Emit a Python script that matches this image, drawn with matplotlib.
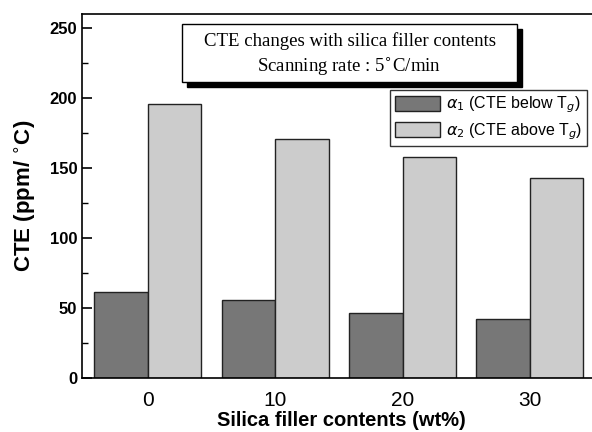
import numpy as np
import matplotlib
matplotlib.use("Agg")
import matplotlib.pyplot as plt
from matplotlib.patches import Rectangle

filler = ["0", "10", "20", "30"]
alpha1 = [61.5, 55.5, 46.5, 42]
alpha2 = [196, 171, 158, 142.5]

fig = plt.figure(figsize=(5.92, 4.32), dpi=100)
ax = fig.add_axes([82 / 592, 54 / 432, 518 / 592, 364 / 432])

x = np.arange(len(filler))
w = 0.42
ax.bar(x - w / 2, alpha1, w, color="#777777", edgecolor="#222222", linewidth=1.0,
       label=r"$\alpha_1$ (CTE below T$_g$)")
ax.bar(x + w / 2, alpha2, w, color="#cccccc", edgecolor="#222222", linewidth=1.0,
       label=r"$\alpha_2$ (CTE above T$_g$)")

ax.set_xlim(-0.518, 3.55)
ax.set_ylim(0, 260)
ax.set_xticks(x)
ax.set_xticklabels(filler)
ax.set_yticks(np.arange(0, 251, 50))
ax.set_yticks(np.arange(25, 251, 50), minor=True)
ax.tick_params(axis="y", which="major", direction="in", length=7, width=1.2)
ax.tick_params(axis="y", which="minor", direction="in", length=4, width=1.0)
ax.tick_params(axis="x", length=0, pad=9)
for lab in ax.get_yticklabels():
    lab.set_fontfamily("Liberation Sans")
    lab.set_fontweight("bold")
    lab.set_fontsize(12)
for lab in ax.get_xticklabels():
    lab.set_fontfamily("Liberation Sans")
    lab.set_fontsize(15)
for sp in ax.spines.values():
    sp.set_linewidth(1.2)

ax.set_xlabel("Silica filler contents (wt%)", fontsize=14.5, fontweight="bold",
              family="Liberation Sans", labelpad=1)
ax.set_ylabel(r"CTE (ppm/ $^{\circ}$C)", fontsize=16, fontweight="bold",
              family="Liberation Sans", labelpad=8)

leg = ax.legend(loc="upper left", bbox_to_anchor=(300 / 518, 1 - 68 / 364),
                frameon=True, fancybox=False, edgecolor="black",
                prop={"family": "Liberation Sans", "size": 11.5},
                handlelength=2.8, handleheight=1.1, borderpad=0.3,
                labelspacing=0.35, handletextpad=0.4)
leg.get_frame().set_linewidth(1.0)

# title box with drop shadow
bx0, by0, bw, bh = 182 / 592, (432 - 82) / 432, 335 / 592, 58 / 432
fig.patches.append(Rectangle((bx0 + 5 / 592, by0 - 5 / 432), bw, bh,
                             transform=fig.transFigure, facecolor="black",
                             edgecolor="black", zorder=5))
fig.patches.append(Rectangle((bx0, by0), bw, bh, transform=fig.transFigure,
                             facecolor="white", edgecolor="black", linewidth=1.0,
                             zorder=6))
fig.text(bx0 + bw / 2, by0 + bh * 0.71, "CTE changes with silica filler contents",
         ha="center", va="center", family="Liberation Serif", fontsize=13.5, zorder=7)
fig.text(bx0 + bw / 2, by0 + bh * 0.28, r"Scanning rate : 5$^{\circ}$C/min",
         ha="center", va="center", family="Liberation Serif", fontsize=13.5, zorder=7)

fig.savefig("out.png", dpi=100)
